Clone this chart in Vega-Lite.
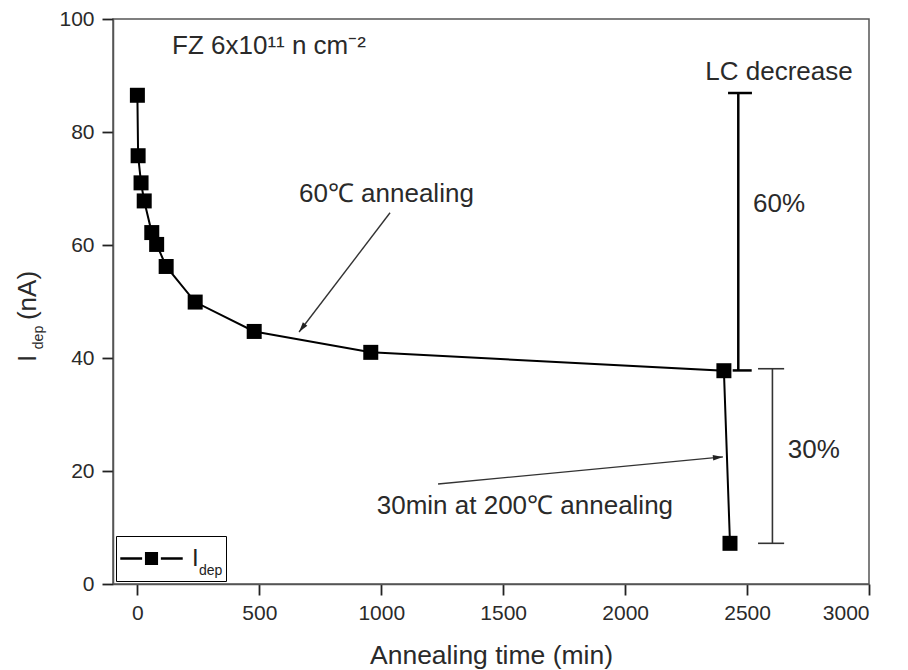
{
  "$schema": "https://vega.github.io/schema/vega-lite/v6.json",
  "width": 756,
  "height": 565,
  "autosize": {"type": "none"},
  "padding": {"left": 113, "top": 19, "right": 39, "bottom": 86},
  "background": "white",
  "config": {
    "view": {"stroke": "#555", "strokeWidth": 1.5},
    "font": "Liberation Sans",
    "axis": {
      "grid": false,
      "domainColor": "#555",
      "domainWidth": 1.5,
      "tickColor": "#222",
      "tickWidth": 1.8,
      "tickSize": 11,
      "labelFont": "Liberation Sans",
      "labelFontSize": 21,
      "labelColor": "#2a2a2a",
      "titleFont": "Liberation Sans",
      "titleFontWeight": "normal",
      "titleColor": "#2a2a2a"
    }
  },
  "datasets": {
    "idep": [
      {"t": 0, "I": 86.5, "series": "Idep"},
      {"t": 3, "I": 75.8, "series": "Idep"},
      {"t": 15, "I": 71.0, "series": "Idep"},
      {"t": 28, "I": 67.8, "series": "Idep"},
      {"t": 59, "I": 62.2, "series": "Idep"},
      {"t": 79, "I": 60.1, "series": "Idep"},
      {"t": 118, "I": 56.2, "series": "Idep"},
      {"t": 237, "I": 49.9, "series": "Idep"},
      {"t": 479, "I": 44.7, "series": "Idep"},
      {"t": 957, "I": 41.0, "series": "Idep"},
      {"t": 2405, "I": 37.75, "series": "Idep"},
      {"t": 2430, "I": 7.2, "series": "Idep"}
    ],
    "bars": [
      {"bar": "60", "x": 2464, "x2": 2464, "y": 37.8, "y2": 86.9},
      {"bar": "60", "x": 2422, "x2": 2520, "y": 86.9, "y2": 86.9},
      {"bar": "60", "x": 2441, "x2": 2519, "y": 37.8, "y2": 37.8},
      {"bar": "30", "x": 2604, "x2": 2604, "y": 38.1, "y2": 7.2},
      {"bar": "30", "x": 2545, "x2": 2652, "y": 38.1, "y2": 38.1},
      {"bar": "30", "x": 2545, "x2": 2652, "y": 7.2, "y2": 7.2}
    ],
    "arrows": [
      {"arrow": "a1", "x": 1036, "y": 65.7, "x2": 663, "y2": 44.6},
      {"arrow": "a2", "x": 1233, "y": 17.7, "x2": 2401, "y2": 22.5}
    ],
    "notes": [
      {"label": "LC decrease", "x": 2631, "y": 90.6},
      {"label": "60%", "x": 2631, "y": 67.3},
      {"label": "30%", "x": 2774, "y": 23.7},
      {"label": "60℃ annealing", "x": 1021, "y": 69.0},
      {"label": "30min at 200℃ annealing", "x": 1589, "y": 13.8}
    ],
    "fz": [
      {"label": "FZ 6x10¹¹ n cm⁻²", "x": 142, "y": 95.2}
    ]
  },
  "layer": [
    {
      "data": {"name": "idep"},
      "mark": {"type": "line", "color": "black", "strokeWidth": 2},
      "encoding": {
        "x": {
          "field": "t", "type": "quantitative",
          "scale": {"domain": [-100, 3000], "nice": false, "zero": false},
          "axis": {
            "orient": "bottom",
            "values": [0, 500, 1000, 1500, 2000, 2500, 3000],
            "format": "d",
            "title": "Annealing time (min)",
            "titleFontSize": 26.5,
            "titleBaseline": "alphabetic",
            "titleY": 79,
            "labelPadding": 7
          }
        },
        "y": {
          "field": "I", "type": "quantitative",
          "scale": {"domain": [0, 100], "nice": false},
          "axis": {
            "orient": "left",
            "values": [0, 20, 40, 60, 80, 100],
            "title": "(nA)",
            "titleFontSize": 26,
            "titleAngle": 270,
            "titleAlign": "center",
            "titleBaseline": "alphabetic",
            "titleX": -78,
            "titleY": 276,
            "labelPadding": 8
          }
        }
      }
    },
    {
      "data": {"name": "idep"},
      "mark": {"type": "point", "shape": "square", "filled": true, "size": 225, "opacity": 1, "strokeWidth": 0},
      "encoding": {
        "x": {"field": "t", "type": "quantitative"},
        "y": {
          "field": "I", "type": "quantitative",
          "axis": {
            "orient": "left",
            "title": "I",
            "labels": false, "ticks": false, "domain": false,
            "titleFontSize": 26,
            "titleAngle": 270,
            "titleAlign": "center",
            "titleBaseline": "alphabetic",
            "titleX": -78,
            "titleY": 339
          }
        },
        "color": {
          "field": "series", "type": "nominal",
          "scale": {"range": ["black"]},
          "legend": {
            "title": "dep",
            "orient": "bottom-left",
            "offset": 3,
            "padding": 3,
            "clipHeight": 39,
            "labelExpr": "'I'",
            "labelFont": "Liberation Sans",
            "labelFontSize": 24,
            "labelColor": "#222",
            "labelOffset": 8,
            "titleOrient": "right",
            "titleAnchor": "end",
            "titleBaseline": "bottom",
            "titleFont": "Liberation Sans",
            "titleFontSize": 14,
            "titleFontWeight": "normal",
            "titleColor": "#222",
            "titlePadding": 0,
            "symbolType": "M-1,0H-0.3M0.3,0H1M-0.17,-0.17H0.17V0.17H-0.17Z",
            "symbolSize": 3900,
            "symbolStrokeWidth": 2.5,
            "symbolFillColor": "black",
            "symbolStrokeColor": "black",
            "strokeColor": "black",
            "fillColor": "white",
            "encode": {
              "symbols": {
                "fill": {"value": "black"},
                "stroke": {"value": "black"},
                "strokeWidth": {"value": 2.5},
                "shape": {"value": "M-1,0H-0.3M0.3,0H1M-0.17,-0.17H0.17V0.17H-0.17Z"},
                "size": {"value": 3900},
                "opacity": {"value": 1}
              },
              "legend": {"strokeWidth": {"value": 2}}
            }
          }
        }
      }
    },
    {
      "data": {"name": "bars"},
      "transform": [{"filter": "datum.bar === '60'"}],
      "mark": {"type": "rule", "color": "black", "strokeWidth": 2.5},
      "encoding": {
        "x": {"field": "x", "type": "quantitative"},
        "x2": {"field": "x2"},
        "y": {
          "field": "y", "type": "quantitative",
          "axis": {
            "orient": "left",
            "title": "dep",
            "labels": false, "ticks": false, "domain": false,
            "titleFontSize": 14,
            "titleAngle": 270,
            "titleAlign": "center",
            "titleBaseline": "alphabetic",
            "titleX": -71,
            "titleY": 318
          }
        },
        "y2": {"field": "y2"}
      }
    },
    {
      "data": {"name": "bars"},
      "transform": [{"filter": "datum.bar === '30'"}],
      "mark": {"type": "rule", "color": "#333", "strokeWidth": 1.6},
      "encoding": {
        "x": {"field": "x", "type": "quantitative"},
        "x2": {"field": "x2"},
        "y": {"field": "y", "type": "quantitative", "axis": null},
        "y2": {"field": "y2"}
      }
    },
    {
      "data": {"name": "arrows"},
      "mark": {"type": "rule", "color": "#333", "strokeWidth": 1.4},
      "encoding": {
        "x": {"field": "x", "type": "quantitative"},
        "x2": {"field": "x2"},
        "y": {"field": "y", "type": "quantitative", "axis": null},
        "y2": {"field": "y2"}
      }
    },
    {
      "data": {"name": "arrows"},
      "transform": [{"filter": "datum.arrow === 'a1'"}],
      "mark": {"type": "point", "shape": "M0,0L-0.7,2.5L0.7,2.5Z", "angle": 217, "filled": true, "size": 64, "color": "#222", "opacity": 1},
      "encoding": {
        "x": {"field": "x2", "type": "quantitative"},
        "y": {"field": "y2", "type": "quantitative", "axis": null}
      }
    },
    {
      "data": {"name": "arrows"},
      "transform": [{"filter": "datum.arrow === 'a2'"}],
      "mark": {"type": "point", "shape": "M0,0L-0.7,2.5L0.7,2.5Z", "angle": 84.6, "filled": true, "size": 64, "color": "#222", "opacity": 1},
      "encoding": {
        "x": {"field": "x2", "type": "quantitative"},
        "y": {"field": "y2", "type": "quantitative", "axis": null}
      }
    },
    {
      "data": {"name": "notes"},
      "mark": {"type": "text", "font": "Liberation Sans", "fontSize": 26, "color": "#2a2a2a", "align": "center", "baseline": "middle"},
      "encoding": {
        "x": {"field": "x", "type": "quantitative"},
        "y": {"field": "y", "type": "quantitative", "axis": null},
        "text": {"field": "label"}
      }
    },
    {
      "data": {"name": "fz"},
      "mark": {"type": "text", "font": "Liberation Sans", "fontSize": 26, "color": "#2a2a2a", "align": "left", "baseline": "middle"},
      "encoding": {
        "x": {"field": "x", "type": "quantitative"},
        "y": {"field": "y", "type": "quantitative", "axis": null},
        "text": {"field": "label"}
      }
    }
  ],
  "resolve": {"axis": {"y": "independent"}}
}
